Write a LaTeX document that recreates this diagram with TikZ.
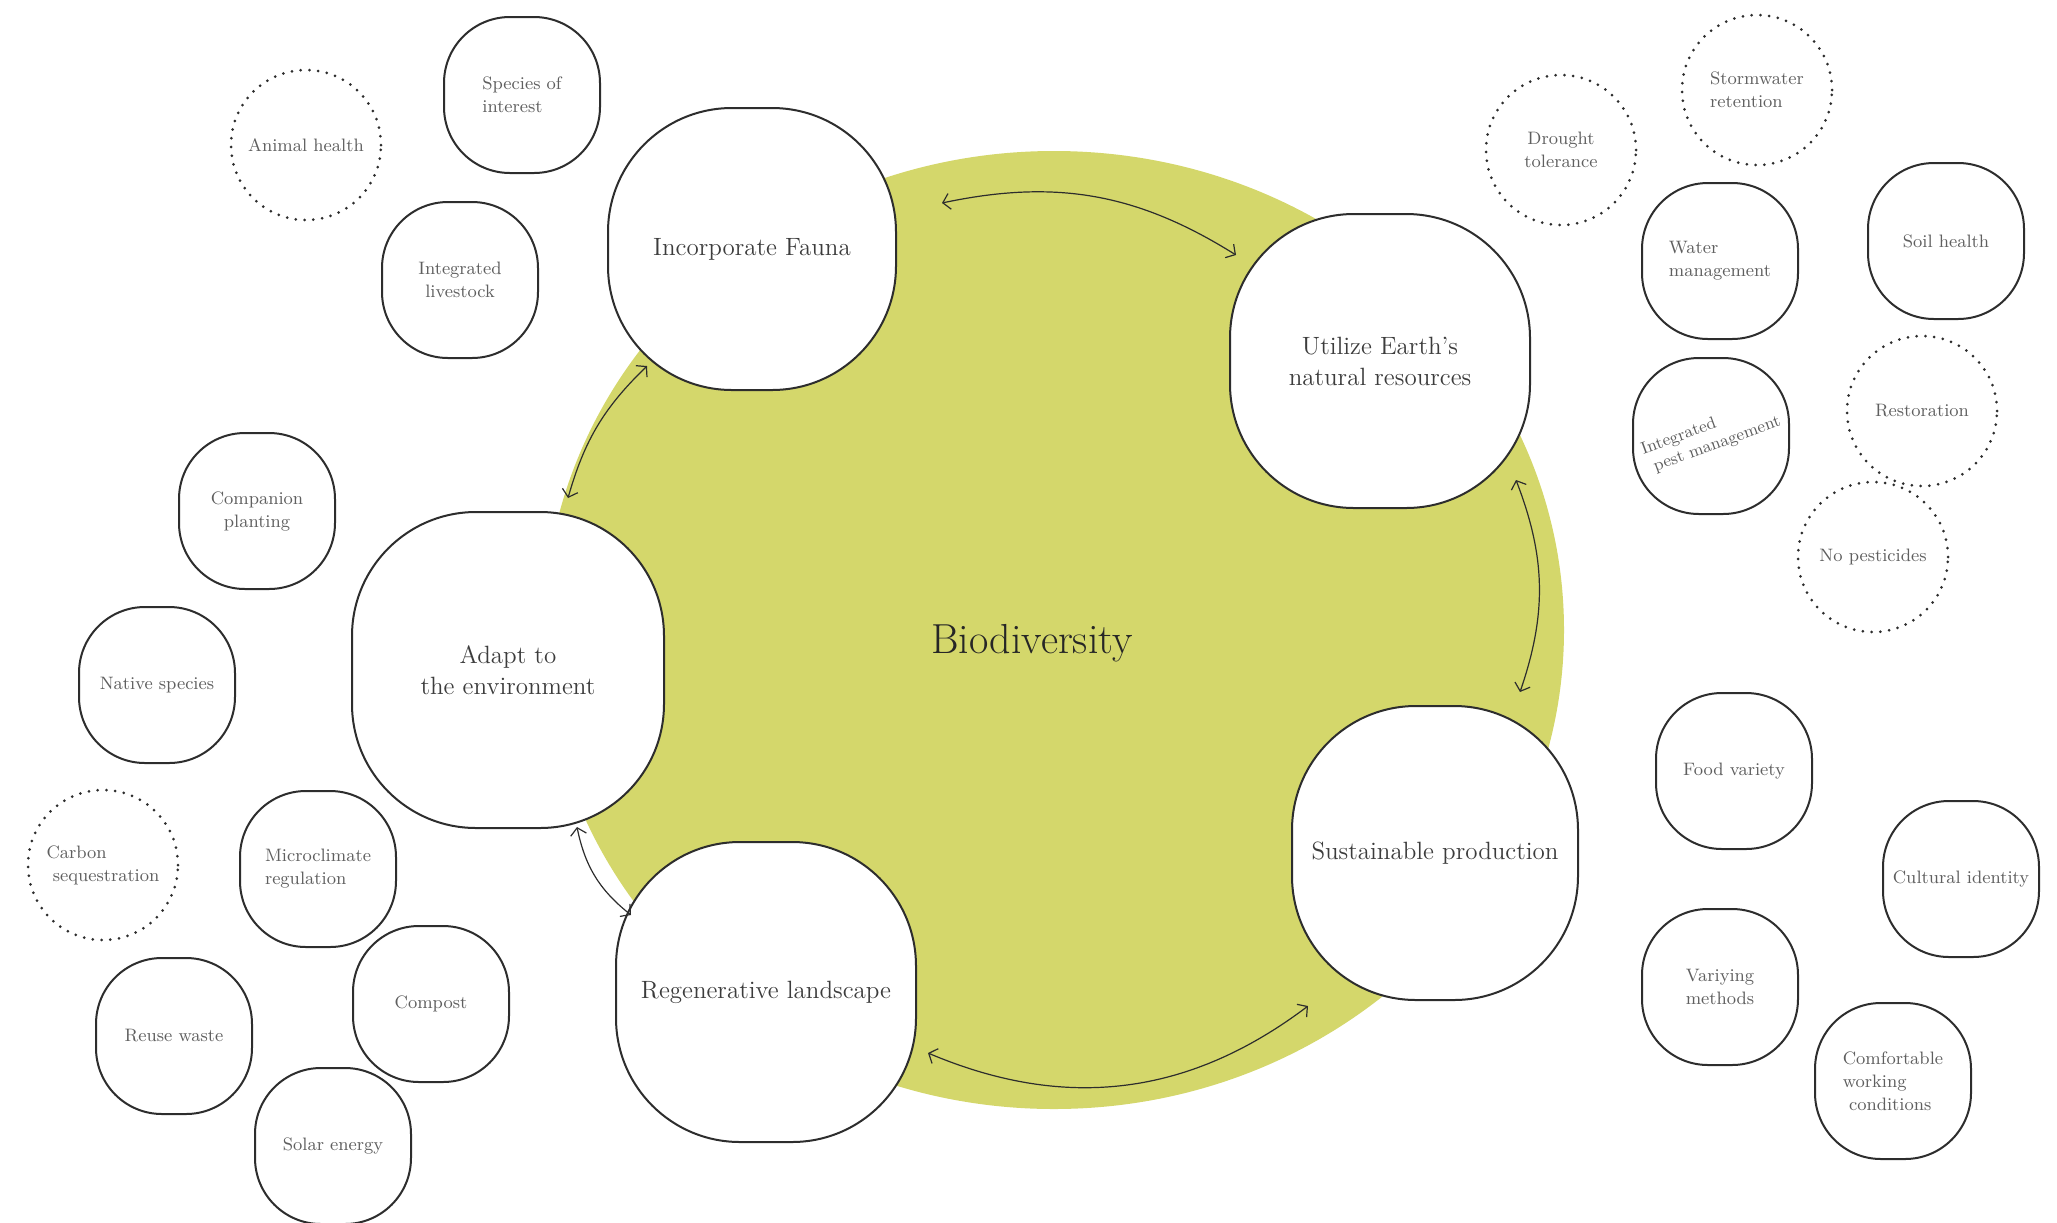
\documentclass[tikz,border=0pt]{standalone}
\usepackage{tikz,graphicx}
\usetikzlibrary{arrows.meta}
\definecolor{biogreen}{RGB}{212,215,107}
\definecolor{inkline}{RGB}{45,45,45}
\definecolor{mainink}{RGB}{60,60,60}
\definecolor{subink}{RGB}{95,95,95}
\tikzset{
  mainblob/.style={draw=inkline,line width=1pt,fill=white,rounded corners=62pt,align=center,text=mainink,inner sep=2pt,font=\fontsize{12.5}{15.5}\selectfont},
  subblob/.style={draw=inkline,line width=1pt,fill=white,rounded corners=33pt,minimum width=78pt,minimum height=78pt,align=center,text=subink,inner sep=1pt,font=\fontsize{9}{11.5}\selectfont},
  dotblob/.style={circle,draw=inkline,line width=1.5pt,dash pattern=on 0pt off 4.4pt,line cap=round,minimum size=75pt,align=center,text=subink,inner sep=1pt,font=\fontsize{9}{11.5}\selectfont},
  link/.style={{Straight Barb[length=3.5pt,width=8pt]}-{Straight Barb[length=3.5pt,width=8pt]},line width=.6pt,draw=inkline},
}
\begin{document}
\begin{tikzpicture}[x=.5pt,y=-.5pt]
\path[use as bounding box] (0,0) rectangle (2057,1222);
% green disc
\fill[biogreen] (1054,630) ellipse [x radius=510,y radius=479];
\node[font=\fontsize{21}{24}\selectfont,text=black!85] (bio) at (1032,643) {Biodiversity};
% main themes
\node[mainblob,minimum width=144pt,minimum height=141pt] (fauna) at (752,249) {Incorporate Fauna};
\node[mainblob,minimum width=150pt,minimum height=147pt] (earth) at (1380,361) {Utilize Earth's\\natural resources};
\node[mainblob,minimum width=156pt,minimum height=158pt] (adapt) at (508,670) {Adapt to\\the environment};
\node[mainblob,minimum width=143pt,minimum height=147pt] (sustain) at (1435,853) {Sustainable production};
\node[mainblob,minimum width=150pt,minimum height=150pt] (regen) at (766,992) {Regenerative landscape};
% links between themes
\draw[link] ([shift={(45,-46)}]fauna.east) to[bend left=22] ([shift={(7,42)}]earth.north west);
\draw[link] ([shift={(-15,-29)}]earth.south east) to[bend left=20] ([shift={(-59,-13)}]sustain.north east);
\draw[link] ([shift={(17,5)}]sustain.south west) to[bend left=30] ([shift={(11,61)}]regen.east);
\draw[link] ([shift={(16,74)}]regen.north west) to[bend left=20] ([shift={(69,-2)}]adapt.south);
\draw[link] ([shift={(60,-13)}]adapt.north) to[bend left=15] ([shift={(40,-25)}]fauna.south west);
% left cluster
\node[dotblob] (animal) at (306,145) {Animal health};
\node[subblob,align=left] (species) at (522,95) {Species of\\interest};
\node[subblob] (livestock) at (460,280) {Integrated\\livestock};
\node[subblob] (companion) at (257,511) {Companion\\planting};
\node[subblob] (native) at (157,685) {Native species};
\node[dotblob,align=left] (carbon) at (103,865) {Carbon\\\ sequestration};
\node[subblob,align=left] (micro) at (318,869) {Microclimate\\regulation};
\node[subblob] (compost) at (431,1004) {Compost};
\node[subblob] (reuse) at (174,1036) {Reuse waste};
\node[subblob] (solar) at (333,1146) {Solar energy};
% right cluster
\node[dotblob] (drought) at (1561,150) {Drought\\tolerance};
\node[dotblob,align=left] (storm) at (1757,90) {Stormwater\\retention};
\node[subblob,align=left] (water) at (1720,261) {Water\\management};
\node[subblob] (soil) at (1946,241) {Soil health};
\node[subblob] (pest) at (1711,436) {\rotatebox[origin=c]{20}{\fontsize{8.5}{10}\selectfont\shortstack[l]{Integrated\\\ pest management}}};
\node[dotblob] (restore) at (1922,411) {Restoration};
\node[dotblob] (nopest) at (1873,557) {No pesticides};
\node[subblob] (food) at (1734,771) {Food variety};
\node[subblob] (culture) at (1961,879) {Cultural identity};
\node[subblob] (methods) at (1720,987) {Variying\\methods};
\node[subblob,align=left] (comfort) at (1893,1081) {Comfortable\\working\\\ conditions};
\end{tikzpicture}
\end{document}
